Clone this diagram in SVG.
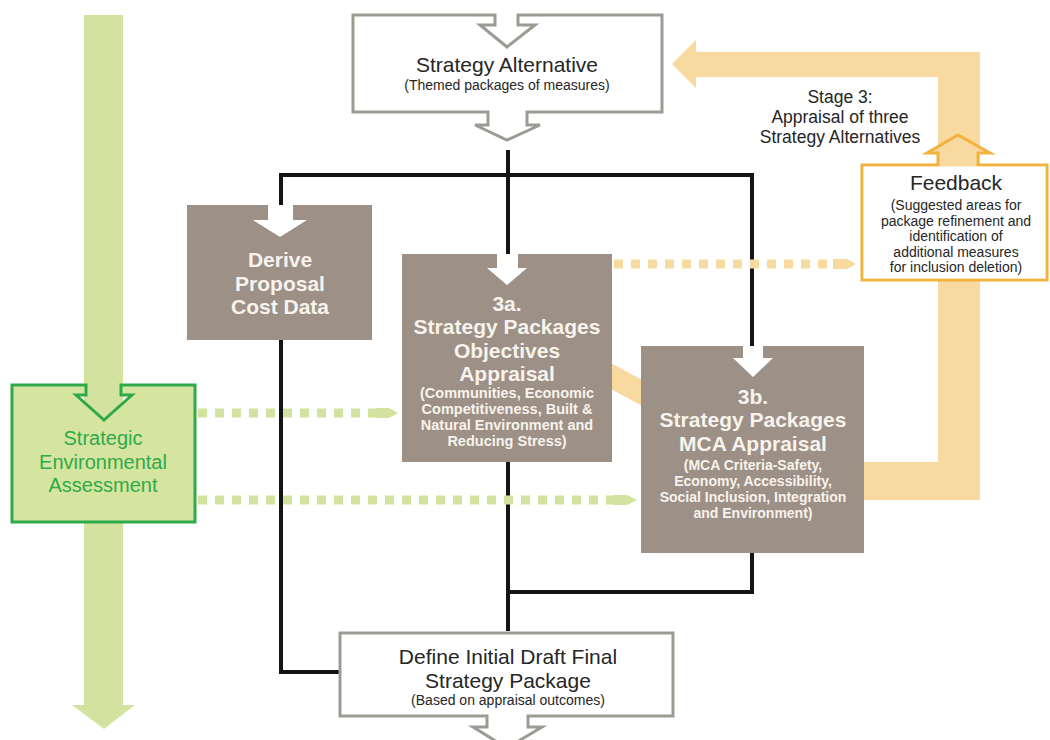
<svg xmlns="http://www.w3.org/2000/svg" width="1050" height="740" viewBox="0 0 1050 740">
<style>
.t{font-family:"Liberation Sans",Arial,sans-serif;text-anchor:middle}
.dk{fill:#262626}
.wb{fill:#f8f3ec;font-weight:bold}
.big{font-size:21px}
.sm{font-size:14px}
.box{fill:#9d9087}
.gbox{fill:#fff;stroke:#9b9b94;stroke-width:3}
.ln{fill:none;stroke:#141414;stroke-width:4}
.wa{fill:#fff}
.band{fill:#f8d9a0}
.gband{fill:#d3e39f}
</style>
<rect width="1050" height="740" fill="#fff"/>

<g id="sea-flow">
<rect class="gband" x="84" y="15" width="39" height="691"/>
<polygon class="gband" points="72,705 135,705 104,729"/>
</g>

<g id="feedback-flow">
<rect class="band" x="695" y="52" width="285" height="25"/>
<polygon class="band" points="696,40 672,64 696,88"/>
<rect class="band" x="938" y="52" width="42" height="448"/>
<rect class="band" x="862" y="462" width="118" height="38"/>
<polygon class="band" points="605,360 650,384 650,410 605,386"/>
</g>

<g id="connectors">
<path class="ln" d="M508,150 V256"/>
<path class="ln" d="M281,207 V175 H752 V348"/>
<path class="ln" d="M508,460 V631"/>
<path class="ln" d="M508,592 H752 V551"/>
<path class="ln" d="M281,338 V672 H341"/>
<g fill="#f8d9a0">
<line x1="614" y1="264" x2="833" y2="264" stroke="#f8d9a0" stroke-width="9" stroke-dasharray="9 8"/>
<polygon points="833,259 847,259 856,264 847,269 833,269"/>
</g>
<g fill="#d3e39f">
<line x1="198" y1="413" x2="376" y2="413" stroke="#d3e39f" stroke-width="9" stroke-dasharray="9 8"/>
<polygon points="376,408 389,408 398,413 389,418 376,418"/>
<line x1="198" y1="500" x2="614" y2="500" stroke="#d3e39f" stroke-width="9" stroke-dasharray="9 8"/>
<polygon points="614,495 627,495 637,500 627,505 614,505"/>
</g>
</g>

<g id="strategy-alternative">
<path class="gbox" d="M353,15 H495 V25 H480 L507,47 L535,25 H518 V15 H662 V112 H527 V125 H540 L507,140 L475,125 H488 V112 H353 Z"/>
<text class="t dk big" x="507" y="72">Strategy Alternative</text>
<text class="t dk sm" x="507" y="90">(Themed packages of measures)</text>
</g>

<g id="derive">
<rect class="box" x="187" y="205" width="185" height="135"/>
<polygon class="wa" points="268,205 268,220 253,220 280,237 307,220 293,220 293,205"/>
<text class="t wb big" x="280" y="267">Derive</text>
<text class="t wb big" x="280" y="291">Proposal</text>
<text class="t wb big" x="280" y="314">Cost Data</text>
</g>

<g id="appraisal-3a">
<rect class="box" x="402" y="254" width="210" height="208"/>
<polygon class="wa" points="497,254 497,268 487,268 507,285 527,268 518,268 518,254"/>
<text class="t wb big" x="507" y="311">3a.</text>
<text class="t wb big" x="507" y="334">Strategy Packages</text>
<text class="t wb big" x="507" y="358">Objectives</text>
<text class="t wb big" x="507" y="381">Appraisal</text>
<text class="t wb" style="font-size:14.5px" x="507" y="398">(Communities, Economic</text>
<text class="t wb" style="font-size:14.5px" x="507" y="414">Competitiveness, Built &amp;</text>
<text class="t wb" style="font-size:14.5px" x="507" y="430">Natural Environment and</text>
<text class="t wb" style="font-size:14.5px" x="507" y="446">Reducing Stress)</text>
</g>

<g id="appraisal-3b">
<rect class="box" x="641" y="346" width="223" height="207"/>
<polygon class="wa" points="743,346 743,358 733,358 753,377 773,358 763,358 763,346"/>
<text class="t wb big" x="753" y="404">3b.</text>
<text class="t wb big" x="753" y="427">Strategy Packages</text>
<text class="t wb big" x="753" y="451">MCA Appraisal</text>
<text class="t wb sm" x="753" y="470">(MCA Criteria-Safety,</text>
<text class="t wb sm" x="753" y="486">Economy, Accessibility,</text>
<text class="t wb sm" x="753" y="502">Social Inclusion, Integration</text>
<text class="t wb sm" x="753" y="518">and Environment)</text>
</g>

<g id="feedback">
<path d="M862,165 H938 V153 H927 L958,135 L990,153 H978 V165 H1047 V280 H862 Z" fill="#f8d9a0" stroke="#f2b33d" stroke-width="3"/>
<rect x="863.5" y="166.5" width="182" height="112" fill="#fff"/>
<text class="t dk big" x="956" y="190">Feedback</text>
<text class="t dk sm" x="956" y="210">(Suggested areas for</text>
<text class="t dk sm" x="956" y="226">package refinement and</text>
<text class="t dk sm" x="956" y="241">identification of</text>
<text class="t dk sm" x="956" y="257">additional measures</text>
<text class="t dk sm" x="956" y="272">for inclusion deletion)</text>
</g>

<g id="stage3-label">
<text class="t dk" style="font-size:17.5px" x="840" y="103">Stage 3:</text>
<text class="t dk" style="font-size:17.5px" x="840" y="123">Appraisal of three</text>
<text class="t dk" style="font-size:17.5px" x="840" y="143">Strategy Alternatives</text>
</g>

<g id="sea">
<path d="M12,385 H86 V395 H76 L104,420 L132,395 H121 V385 H195 V522 H12 Z" fill="#d5e59f" stroke="#2faa4a" stroke-width="3"/>
<text class="t" style="font-size:20px;fill:#2faa4a" x="103" y="445">Strategic</text>
<text class="t" style="font-size:20px;fill:#2faa4a" x="103" y="469">Environmental</text>
<text class="t" style="font-size:20px;fill:#2faa4a" x="103" y="492">Assessment</text>
</g>

<g id="define">
<path class="gbox" d="M340,633 H673 V716 H528 V727 H542 L507,748 L473,727 H487 V716 H340 Z"/>
<text class="t dk big" x="508" y="664">Define Initial Draft Final</text>
<text class="t dk big" x="508" y="688">Strategy Package</text>
<text class="t dk sm" x="508" y="705">(Based on appraisal outcomes)</text>
</g>
</svg>
